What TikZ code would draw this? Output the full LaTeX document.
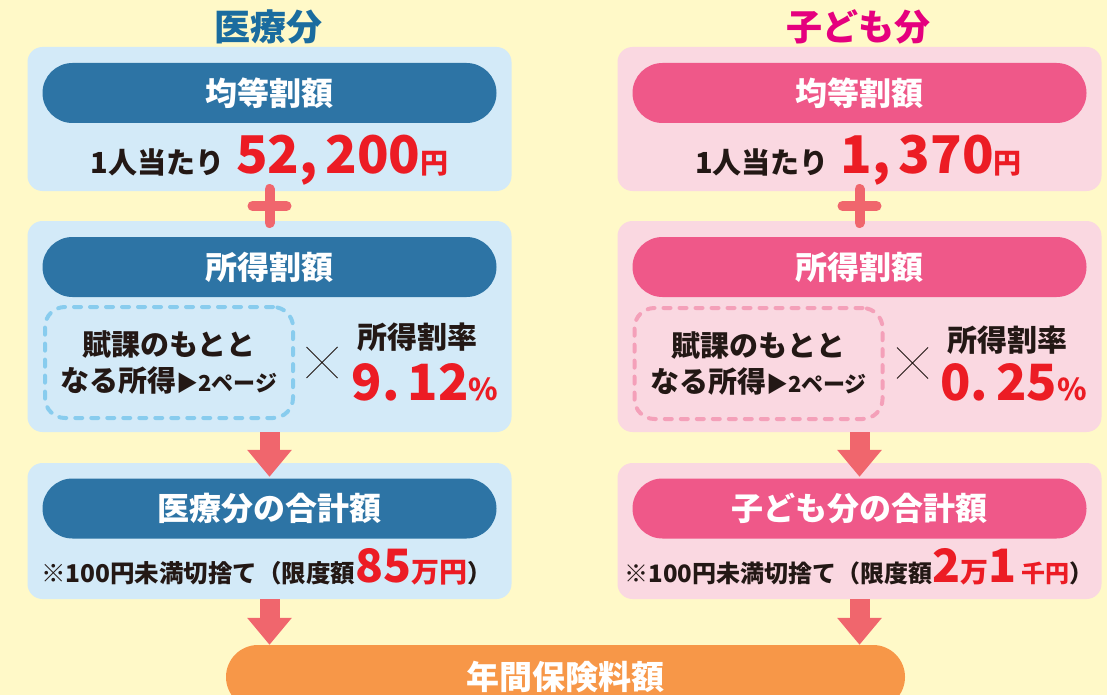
\documentclass[tikz,border=0pt]{standalone}
\usepackage{fontspec}
\setmainfont{Noto Sans CJK JP}
\usetikzlibrary{arrows.meta,calc}
\definecolor{bg}{HTML}{FFF9C8}
\definecolor{bluepanel}{HTML}{D3EAF8}
\definecolor{bluehead}{HTML}{2D74A5}
\definecolor{bluetitle}{HTML}{1A6C9F}
\definecolor{bluedash}{HTML}{88CCEE}
\definecolor{pinkpanel}{HTML}{FAD8E1}
\definecolor{pinkhead}{HTML}{EF5889}
\definecolor{pinktitle}{HTML}{E5007E}
\definecolor{pinkdash}{HTML}{F4A0B9}
\definecolor{numred}{HTML}{EC1C24}
\definecolor{arrowred}{HTML}{F0666D}
\definecolor{total}{HTML}{F79748}
\definecolor{ink}{HTML}{231815}
\newcommand\fsz[1]{\fontsize{#1}{#1}\selectfont}

\begin{document}
\begin{tikzpicture}[x=1pt, y=-1pt,
    panel/.style={fill=#1, rounded corners=15pt, minimum width=484pt, inner sep=0pt},
    headpill/.style={fill=#1, rounded corners=30pt, minimum width=454pt, minimum height=60pt, inner sep=0pt, text=white, font=\bfseries\fsz{32}},
    basebox/.style={draw=#1, line width=4pt, dash pattern=on 7pt off 9pt, line cap=round, rounded corners=20pt, minimum width=248pt, minimum height=111pt, inner sep=0pt, align=center, text=ink, font=\bfseries\fontsize{29}{36}\selectfont},
    downarrow/.style={draw=arrowred, line width=20pt, -{Triangle[length=27pt, width=43pt]}},
    plusmark/.style={draw=arrowred, line width=10pt, line cap=round},
    timesmark/.style={draw=ink, line width=1pt}]
    \useasboundingbox (0,0) rectangle (1107,695);
    \fill[bg] (0,0) rectangle (1107,695);

    \node[text=bluetitle, font=\bfseries\fsz{36}] (ttl1) at (268,27) {医療分};
    \node[panel=bluepanel, minimum height=144pt] (p1) at (269.5,119) {};
    \node[panel=bluepanel, minimum height=211pt] (s1) at (269.5,326.5) {};
    \node[panel=bluepanel, minimum height=136pt] (g1) at (269.5,531) {};
    \node[headpill=bluehead] (kh1) at (269.5,93) {均等割額};
    \node[headpill=bluehead] (sh1) at (269.5,267) {所得割額};
    \node[headpill=bluehead] (gh1) at (269.5,508.5) {医療分の合計額};
    \node[anchor=base, text=ink, font=\bfseries] (amt1) at (269.5,174)
        {\fsz{29}1人当たり\hspace{12pt}\textcolor{numred}{\fsz{52}52,\kern8pt200\fsz{28}円}};
    \node[basebox=bluedash] (base1) at (169,362.5) {賦課のもとと\\なる所得{\fsz{22}▶2ページ}};
    \coordinate (x1) at (322,362.5);
    \draw[timesmark] (x1) +(-15.5,-15.5) -- +(15.5,15.5) +(-15.5,15.5) -- +(15.5,-15.5);
    \node[text=ink, font=\bfseries\fsz{30}] (rl1) at (417,337) {所得割率};
    \node[anchor=base, text=numred, font=\bfseries] (rate1) at (425,400) {\fsz{50}9.\kern8pt12\fsz{30}\%};
    \node[anchor=base, text=ink, font=\bfseries\fsz{24.5}] (note1) at (266.5,582)
        {※100円未満切捨て（限度額\textcolor{numred}{\fsz{46}85\fsz{28}万円}）};

    \node[text=pinktitle, font=\bfseries\fsz{36}] (ttl2) at (858,27) {子ども分};
    \node[panel=pinkpanel, minimum height=144pt] (p2) at (859.5,119) {};
    \node[panel=pinkpanel, minimum height=211pt] (s2) at (859.5,326.5) {};
    \node[panel=pinkpanel, minimum height=136pt] (g2) at (859.5,531) {};
    \node[headpill=pinkhead] (kh2) at (859.5,93) {均等割額};
    \node[headpill=pinkhead] (sh2) at (859.5,267) {所得割額};
    \node[headpill=pinkhead] (gh2) at (859.5,508.5) {子ども分の合計額};
    \node[anchor=base, text=ink, font=\bfseries] (amt2) at (858.5,174)
        {\fsz{29}1人当たり\hspace{12pt}\textcolor{numred}{\fsz{52}1,\kern8pt370\fsz{28}円}};
    \node[basebox=pinkdash] (base2) at (758.5,363.5) {賦課のもとと\\なる所得{\fsz{22}▶2ページ}};
    \coordinate (x2) at (912.5,363);
    \draw[timesmark] (x2) +(-15.5,-15.5) -- +(15.5,15.5) +(-15.5,15.5) -- +(15.5,-15.5);
    \node[text=ink, font=\bfseries\fsz{30}] (rl2) at (1007.5,340) {所得割率};
    \node[anchor=base, text=numred, font=\bfseries] (rate2) at (1013.5,400) {\fsz{50}0.\kern8pt25\fsz{30}\%};
    \node[anchor=base, text=ink, font=\bfseries\fsz{24}] (note2) at (859,582)
        {※100円未満切捨て（限度額\textcolor{numred}{\fsz{46}2\fsz{28}万\fsz{46}1\hspace{5pt}\fsz{24}千円}）};

    \begin{scope}
        \clip (0,0) rectangle (1107,695);
        \node[fill=total, rounded corners=32pt, minimum width=679pt, minimum height=64pt, inner sep=0pt,
            text=white, font=\bfseries\fsz{33}] (tot) at (565.5,677) {年間保険料額};
    \end{scope}

    \coordinate (pl1) at ($(p1.south)!.5!(s1.north)$);
    \coordinate (pl2) at ($(p2.south)!.5!(s2.north)$);
    \draw[plusmark] (pl1) +(-17,0) -- +(17,0) +(0,-17) -- +(0,17);
    \draw[plusmark] (pl2) +(-17,0) -- +(17,0) +(0,-17) -- +(0,17);
    \draw[downarrow] (s1.south) -- ([yshift=-14pt]g1.north);
    \draw[downarrow] (s2.south) -- ([yshift=-14pt]g2.north);
    \draw[downarrow] (g1.south) -- (g1.south |- tot.north);
    \draw[downarrow] (g2.south) -- (g2.south |- tot.north);
\end{tikzpicture}
\end{document}
